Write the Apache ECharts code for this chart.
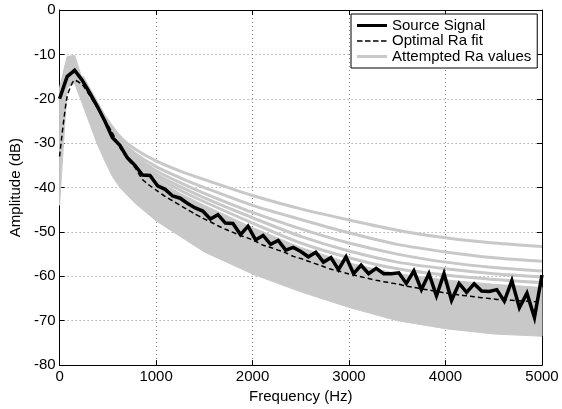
<!DOCTYPE html>
<html><head><meta charset="utf-8">
<script src="https://cdn.jsdelivr.net/npm/echarts@6/dist/echarts.min.js"></script>
<style>html,body{margin:0;padding:0;background:#fff}#c{width:562px;height:409px}</style>
</head><body><div id="c"></div>
<script>
// Frequency bins (Hz)
var freq = [0,78.1,156.3,234.4,312.5,390.6,468.8,546.9,625,703.1,781.3,859.4,937.5,1015.6,1093.8,1171.9,1250,1328.1,1406.3,1484.4,1562.5,1640.6,1718.8,1796.9,1875,1953.1,2031.3,2109.4,2187.5,2265.6,2343.8,2421.9,2500,2578.1,2656.3,2734.4,2812.5,2890.6,2968.8,3046.9,3125,3203.1,3281.3,3359.4,3437.5,3515.6,3593.8,3671.9,3750,3828.1,3906.3,3984.4,4062.5,4140.6,4218.8,4296.9,4375,4453.1,4531.3,4609.4,4687.5,4765.6,4843.8,4921.9,5000];
// Source Signal (dB)
var source = [-20,-15,-13.6,-15.8,-18.7,-21.7,-25,-28.7,-30.5,-33.3,-35,-37.2,-37.3,-39.6,-40.4,-41.9,-42.4,-43.6,-44.6,-45.3,-47.1,-46.1,-48.0,-48.1,-50.6,-48.7,-51.8,-50.8,-52.8,-51.9,-54.1,-53.5,-54.4,-55.6,-54.6,-56.8,-55.8,-58.5,-55.6,-59.4,-57.5,-59.4,-58.2,-59.4,-59.4,-59.2,-61.6,-58.8,-63.0,-59.4,-64.4,-59.4,-65.4,-61.6,-63.6,-61.7,-63.3,-63.4,-63.0,-65.6,-61.0,-67.1,-63.8,-69.3,-59.7];
// Optimal Ra fit (dB)
var optimal = [-33,-19.5,-15.8,-16.8,-19.3,-22,-24.8,-27.6,-31,-33.5,-35.5,-38.2,-39.6,-40.8,-42,-43,-44,-45,-46,-46.9,-47.7,-48.6,-49.4,-50.1,-50.8,-51.4,-52.1,-53.0,-53.5,-54.1,-54.7,-55.5,-56.0,-56.6,-57.2,-57.8,-58.4,-58.8,-59.3,-59.7,-60.1,-60.5,-60.9,-61.2,-61.5,-61.8,-62.2,-62.5,-62.8,-63.1,-63.4,-63.7,-63.9,-64.2,-64.4,-64.6,-64.8,-65.0,-65.2,-65.3,-65.4,-65.5,-65.6,-65.7,-65.8];
// Attempted Ra values: separated upper curves
var lineFreq = [234,312,391,469,625,781,1000,1250,1500,2000,2500,3000,3500,4000,4500,5000];
var attempt1 = [-15,-18,-21,-24,-28.5,-31.3,-34,-36.3,-38.2,-41.8,-44.8,-47.3,-49.6,-51.3,-52.5,-53.3];
var attempt2 = [-15.2,-18.3,-21.5,-24.5,-29.3,-32.3,-35.3,-37.8,-40.0,-44.0,-47.2,-50.2,-52.8,-54.5,-55.8,-56.6];
var attempt3 = [-15.3,-18.5,-21.8,-25,-29.9,-33.0,-36.2,-38.9,-41.3,-45.6,-49.3,-52.5,-55.0,-56.8,-58.0,-58.8];
var attempt4 = [-15.4,-18.7,-22,-25.4,-30.4,-33.6,-37.0,-39.8,-42.3,-46.8,-51.0,-54.3,-56.8,-58.3,-59.4,-60.1];
var attempt5 = [-15.5,-18.8,-22.2,-25.8,-30.8,-34.1,-37.6,-40.6,-43.2,-48.0,-52.5,-55.8,-58.3,-59.7,-60.7,-61.4];
// Attempted Ra values: dense band (upper and lower envelope)
var bandFreq = [0,78,156,234,312,391,469,547,625,781,1000,1250,1500,2000,2500,3000,3500,4000,4500,5000];
var bandTop = [-17.5,-10.5,-10.2,-15.5,-19,-22.5,-26,-28.5,-31.2,-34.6,-38.2,-41.3,-44,-49,-53.5,-57,-59.4,-60.8,-61.8,-62.5];
var bandLow = [-44,-17.5,-16.5,-21,-25.6,-30.2,-34,-37.5,-40,-43.5,-47.5,-51,-54.5,-59.5,-63.5,-67,-70,-71.8,-73,-73.5];
// Axis ticks
var xTicks = {min:0, max:5000, step:1000};
var yTicks = {min:-80, max:0, step:10};

function pairs(xs, ys){ return xs.map(function(x,i){ return [x, ys[i]]; }); }

var GRAY = '#c8c8c8';
var FONT = "'Liberation Sans', Arial, Helvetica, sans-serif";
var tickStyle = {show:true, inside:true, length:5, lineStyle:{color:'#000', width:1}};
var axLine = {show:true, onZero:false, lineStyle:{color:'#000', width:1}};
var split = {show:true, lineStyle:{color:'#8a8a8a', width:1, type:[1,3]}};
var plain = function(v){ return String(v); };

// legend icons (30x15 box; tiny corner marks fix the bounding box)
var CORNERS = 'M0,0L0.01,0L0,0.01Z M30,15L29.99,15L30,14.99Z ';
var ICON_SOLID = 'path://' + CORNERS + 'M0,6L30,6L30,9L0,9Z';
var ICON_DASH = 'path://' + CORNERS + 'M0,6.7L5.5,6.7L5.5,8.3L0,8.3Z M8,6.7L13.5,6.7L13.5,8.3L8,8.3Z M16,6.7L21.5,6.7L21.5,8.3L16,8.3Z M24,6.7L29.5,6.7L29.5,8.3L24,8.3Z';

function grayLine(ys){
  return {name:'Attempted Ra values', type:'line', data:pairs(lineFreq, ys), symbol:'none', smooth:0.3,
    lineStyle:{color:GRAY, width:3}, itemStyle:{color:GRAY}, z:2, silent:true};
}

var option = {
  animation:false,
  grid: {left:56, right:20, top:10, bottom:35},
  xAxis: [
    {type:'value', min:xTicks.min, max:xTicks.max, interval:xTicks.step, position:'bottom',
     name:'Frequency (Hz)', nameLocation:'middle', nameGap:20,
     nameTextStyle:{fontFamily:FONT, fontSize:15, color:'#000'},
     axisLine:axLine, axisTick:tickStyle, splitLine:split,
     axisLabel:{fontFamily:FONT, fontSize:15, color:'#000', margin:4, formatter:plain}},
    {type:'value', min:xTicks.min, max:xTicks.max, interval:xTicks.step, position:'top',
     axisLine:axLine, axisTick:tickStyle, splitLine:{show:false}, axisLabel:{show:false}}
  ],
  yAxis: [
    {type:'value', min:yTicks.min, max:yTicks.max, interval:yTicks.step, position:'left',
     name:'Amplitude (dB)', nameLocation:'middle', nameGap:33,
     nameTextStyle:{fontFamily:FONT, fontSize:15, color:'#000'},
     axisLine:axLine, axisTick:tickStyle, splitLine:split,
     axisLabel:{fontFamily:FONT, fontSize:15, color:'#000', margin:4, formatter:plain}},
    {type:'value', min:yTicks.min, max:yTicks.max, interval:yTicks.step, position:'right',
     axisLine:axLine, axisTick:tickStyle, splitLine:{show:false}, axisLabel:{show:false}}
  ],
  legend: {
    data:[
      {name:'Source Signal', icon:ICON_SOLID, itemStyle:{color:'#000', borderWidth:0}},
      {name:'Optimal Ra fit', icon:ICON_DASH, itemStyle:{color:'#000', borderWidth:0}},
      {name:'Attempted Ra values', icon:ICON_SOLID, itemStyle:{color:GRAY, borderWidth:0}}
    ],
    orient:'vertical', left:351, top:14, padding:[4,6,4,6],
    itemWidth:30, itemHeight:15, itemGap:0.5,
    backgroundColor:'#fff', borderColor:'#000', borderWidth:1, borderRadius:0,
    textStyle:{fontFamily:FONT, fontSize:15, color:'#000', lineHeight:15},
    selectedMode:false
  },
  series: [
    {name:'Attempted Ra values band', type:'custom', data:pairs(bandFreq, bandTop), encode:{x:0, y:1}, z:1, silent:true, clip:true,
     renderItem:function(params, api){
       if (params.dataIndex !== 0) return null;
       var pts = [];
       for (var i = 0; i < bandFreq.length; i++) pts.push(api.coord([bandFreq[i], bandTop[i]]));
       for (var j = bandFreq.length - 1; j >= 0; j--) pts.push(api.coord([bandFreq[j], bandLow[j]]));
       return {type:'polygon', shape:{points:pts}, style:{fill:GRAY, stroke:GRAY, lineWidth:1}};
     }},
    grayLine(attempt1), grayLine(attempt2), grayLine(attempt3), grayLine(attempt4), grayLine(attempt5),
    {name:'Source Signal', type:'line', data:pairs(freq, source), symbol:'none',
     lineStyle:{color:'#000', width:3.5, join:'miter'}, itemStyle:{color:'#000'}, z:4},
    {name:'Optimal Ra fit', type:'line', data:pairs(freq, optimal), symbol:'none', smooth:0.2,
     lineStyle:{color:'#000', width:1.5, type:[5,3]}, itemStyle:{color:'#000'}, z:5}
  ]
};
var chart = echarts.init(document.getElementById('c'), null, {renderer:'canvas'});
chart.setOption(option);
</script></body></html>
